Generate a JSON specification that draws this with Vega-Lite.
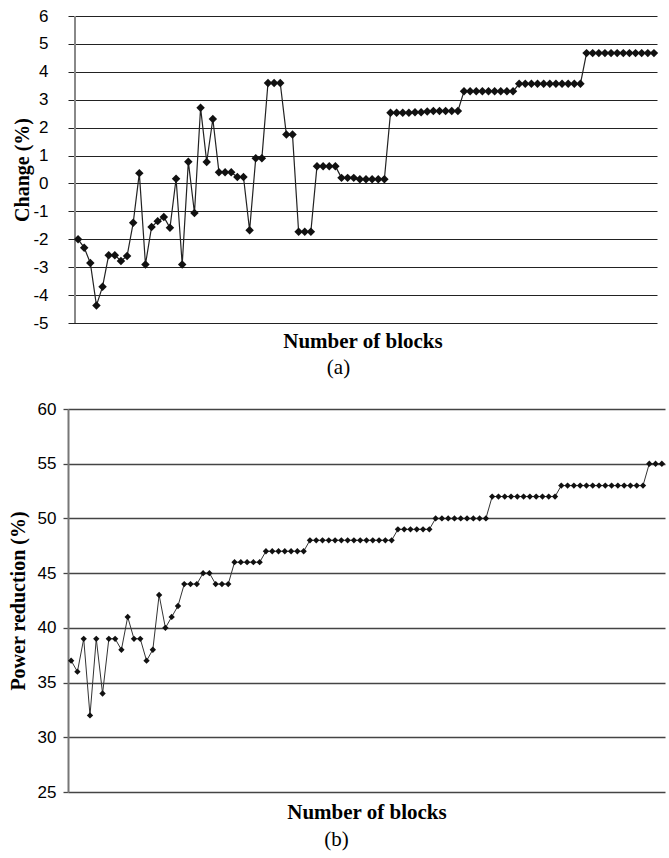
{
  "$schema": "https://vega.github.io/schema/vega-lite/v6.json",
  "padding": {"left": 8, "top": 7, "right": 4, "bottom": 4},
  "background": "white",
  "config": {"view": {"stroke": null}},
  "datasets": {
    "a": [
      {"n":1,"v":-2.0},{"n":2,"v":-2.3},{"n":3,"v":-2.85},{"n":4,"v":-4.37},{"n":5,"v":-3.7},
      {"n":6,"v":-2.57},{"n":7,"v":-2.57},{"n":8,"v":-2.78},{"n":9,"v":-2.6},{"n":10,"v":-1.41},
      {"n":11,"v":0.37},{"n":12,"v":-2.9},{"n":13,"v":-1.56},{"n":14,"v":-1.35},{"n":15,"v":-1.2},
      {"n":16,"v":-1.59},{"n":17,"v":0.17},{"n":18,"v":-2.9},{"n":19,"v":0.78},{"n":20,"v":-1.06},
      {"n":21,"v":2.71},{"n":22,"v":0.77},{"n":23,"v":2.31},{"n":24,"v":0.4},{"n":25,"v":0.4},
      {"n":26,"v":0.4},{"n":27,"v":0.23},{"n":28,"v":0.23},{"n":29,"v":-1.68},{"n":30,"v":0.9},
      {"n":31,"v":0.9},{"n":32,"v":3.6},{"n":33,"v":3.6},{"n":34,"v":3.6},{"n":35,"v":1.75},
      {"n":36,"v":1.75},{"n":37,"v":-1.73},{"n":38,"v":-1.73},{"n":39,"v":-1.73},{"n":40,"v":0.62},
      {"n":41,"v":0.62},{"n":42,"v":0.62},{"n":43,"v":0.62},{"n":44,"v":0.2},{"n":45,"v":0.2},
      {"n":46,"v":0.2},{"n":47,"v":0.15},{"n":48,"v":0.15},{"n":49,"v":0.15},{"n":50,"v":0.15},
      {"n":51,"v":0.15},{"n":52,"v":2.53},{"n":53,"v":2.53},{"n":54,"v":2.53},{"n":55,"v":2.53},
      {"n":56,"v":2.55},{"n":57,"v":2.55},{"n":58,"v":2.58},{"n":59,"v":2.6},{"n":60,"v":2.6},
      {"n":61,"v":2.6},{"n":62,"v":2.6},{"n":63,"v":2.6},{"n":64,"v":3.3},{"n":65,"v":3.3},
      {"n":66,"v":3.3},{"n":67,"v":3.3},{"n":68,"v":3.3},{"n":69,"v":3.3},{"n":70,"v":3.3},
      {"n":71,"v":3.3},{"n":72,"v":3.3},{"n":73,"v":3.57},{"n":74,"v":3.57},{"n":75,"v":3.57},
      {"n":76,"v":3.57},{"n":77,"v":3.57},{"n":78,"v":3.57},{"n":79,"v":3.57},{"n":80,"v":3.57},
      {"n":81,"v":3.57},{"n":82,"v":3.57},{"n":83,"v":3.57},{"n":84,"v":4.67},{"n":85,"v":4.67},
      {"n":86,"v":4.67},{"n":87,"v":4.67},{"n":88,"v":4.67},{"n":89,"v":4.67},{"n":90,"v":4.67},
      {"n":91,"v":4.67},{"n":92,"v":4.67},{"n":93,"v":4.67},{"n":94,"v":4.67},{"n":95,"v":4.67}
    ],
    "b": [
      {"n":1,"v":37},{"n":2,"v":36},{"n":3,"v":39},{"n":4,"v":32},{"n":5,"v":39},
      {"n":6,"v":34},{"n":7,"v":39},{"n":8,"v":39},{"n":9,"v":38},{"n":10,"v":41},
      {"n":11,"v":39},{"n":12,"v":39},{"n":13,"v":37},{"n":14,"v":38},{"n":15,"v":43},
      {"n":16,"v":40},{"n":17,"v":41},{"n":18,"v":42},{"n":19,"v":44},{"n":20,"v":44},
      {"n":21,"v":44},{"n":22,"v":45},{"n":23,"v":45},{"n":24,"v":44},{"n":25,"v":44},
      {"n":26,"v":44},{"n":27,"v":46},{"n":28,"v":46},{"n":29,"v":46},{"n":30,"v":46},
      {"n":31,"v":46},{"n":32,"v":47},{"n":33,"v":47},{"n":34,"v":47},{"n":35,"v":47},
      {"n":36,"v":47},{"n":37,"v":47},{"n":38,"v":47},{"n":39,"v":48},{"n":40,"v":48},
      {"n":41,"v":48},{"n":42,"v":48},{"n":43,"v":48},{"n":44,"v":48},{"n":45,"v":48},
      {"n":46,"v":48},{"n":47,"v":48},{"n":48,"v":48},{"n":49,"v":48},{"n":50,"v":48},
      {"n":51,"v":48},{"n":52,"v":48},{"n":53,"v":49},{"n":54,"v":49},{"n":55,"v":49},
      {"n":56,"v":49},{"n":57,"v":49},{"n":58,"v":49},{"n":59,"v":50},{"n":60,"v":50},
      {"n":61,"v":50},{"n":62,"v":50},{"n":63,"v":50},{"n":64,"v":50},{"n":65,"v":50},
      {"n":66,"v":50},{"n":67,"v":50},{"n":68,"v":52},{"n":69,"v":52},{"n":70,"v":52},
      {"n":71,"v":52},{"n":72,"v":52},{"n":73,"v":52},{"n":74,"v":52},{"n":75,"v":52},
      {"n":76,"v":52},{"n":77,"v":52},{"n":78,"v":52},{"n":79,"v":53},{"n":80,"v":53},
      {"n":81,"v":53},{"n":82,"v":53},{"n":83,"v":53},{"n":84,"v":53},{"n":85,"v":53},
      {"n":86,"v":53},{"n":87,"v":53},{"n":88,"v":53},{"n":89,"v":53},{"n":90,"v":53},
      {"n":91,"v":53},{"n":92,"v":53},{"n":93,"v":55},{"n":94,"v":55},{"n":95,"v":55}
    ]
  },
  "vconcat": [
    {
      "width": 589,
      "height": 307,
      "title": {"text": "(a)", "orient": "bottom", "anchor": "middle", "frame": "group", "font": "Liberation Serif", "fontSize": 21, "fontWeight": "normal", "color": "#000", "offset": 6, "dx": -24},
      "layer": [
        {
          "data": {"values": [{}]},
          "mark": {"type": "rule", "color": "#888", "strokeWidth": 2},
          "encoding": {
            "x": {"datum": 0.5, "type": "quantitative", "scale": {"domain": [-0.643, 95.5], "nice": false, "zero": false},
              "axis": {"title": "Number of blocks", "labels": false, "ticks": false, "domain": false, "grid": false, "titleFont": "Liberation Serif", "titleFontWeight": "bold", "titleFontSize": 21, "titleColor": "#000", "titlePadding": 7}}
          }
        },
        {
          "data": {"name": "a"},
          "mark": {"type": "line", "color": "#222", "strokeWidth": 1.2},
          "encoding": {
            "x": {"field": "n", "type": "quantitative"},
            "y": {"field": "v", "type": "quantitative", "scale": {"domain": [-5, 6], "nice": false, "zero": false},
              "axis": {"title": "Change (%)", "values": [-5,-4,-3,-2,-1,0,1,2,3,4,5,6], "tickCount": 12, "labelOverlap": false, "grid": true, "gridColor": "#222", "gridWidth": 1.2, "gridOpacity": 1, "ticks": false, "tickSize": 0, "domain": false,
                "labelFont": "Liberation Sans", "labelFontSize": 17, "labelColor": "#000", "labelPadding": 20,
                "labelExpr": "datum.value < 0 ? '-' + abs(datum.value) : '' + datum.value",
                "titleFont": "Liberation Serif", "titleFontWeight": "bold", "titleFontSize": 20, "titleColor": "#000", "titleX": -46, "titleY": 153.5, "titleBaseline": "middle", "titleAlign": "center", "titleAngle": -90}}
          }
        },
        {
          "data": {"name": "a"},
          "mark": {"type": "point", "shape": "diamond", "filled": true, "size": 72, "color": "#111", "opacity": 1},
          "encoding": {
            "x": {"field": "n", "type": "quantitative"},
            "y": {"field": "v", "type": "quantitative"}
          }
        }
      ]
    },
    {
      "width": 597,
      "height": 383,
      "data": {"name": "b"},
      "title": {"text": "(b)", "orient": "bottom", "anchor": "middle", "frame": "group", "font": "Liberation Serif", "fontSize": 21, "fontWeight": "normal", "color": "#000", "offset": 7, "dx": -30},
      "encoding": {
        "x": {"field": "n", "type": "quantitative", "scale": {"domain": [0.5, 95.5], "nice": false, "zero": false},
          "axis": {"title": "Number of blocks", "labels": false, "ticks": false, "domain": false, "grid": false, "titleFont": "Liberation Serif", "titleFontWeight": "bold", "titleFontSize": 21, "titleColor": "#000", "titlePadding": 9}},
        "y": {"field": "v", "type": "quantitative", "scale": {"domain": [25, 60], "nice": false, "zero": false},
          "axis": {"title": "Power reduction (%)", "values": [25,30,35,40,45,50,55,60], "tickCount": 8, "labelOverlap": false, "grid": true, "gridColor": "#444", "gridWidth": 1.3, "gridOpacity": 1, "tickColor": "#444", "tickWidth": 1.3, "tickSize": 5, "domainColor": "#777", "domainWidth": 2,
            "labelFont": "Liberation Sans", "labelFontSize": 17, "labelColor": "#000", "labelPadding": 7,
            "titleFont": "Liberation Serif", "titleFontWeight": "bold", "titleFontSize": 20, "titleColor": "#000", "titleX": -50, "titleY": 191.5, "titleBaseline": "middle", "titleAlign": "center", "titleAngle": -90}}
      },
      "layer": [
        {"mark": {"type": "line", "color": "#333", "strokeWidth": 1}},
        {"mark": {"type": "point", "shape": "diamond", "filled": true, "size": 40, "color": "#111", "opacity": 1}}
      ]
    }
  ],
  "spacing": 22
}
